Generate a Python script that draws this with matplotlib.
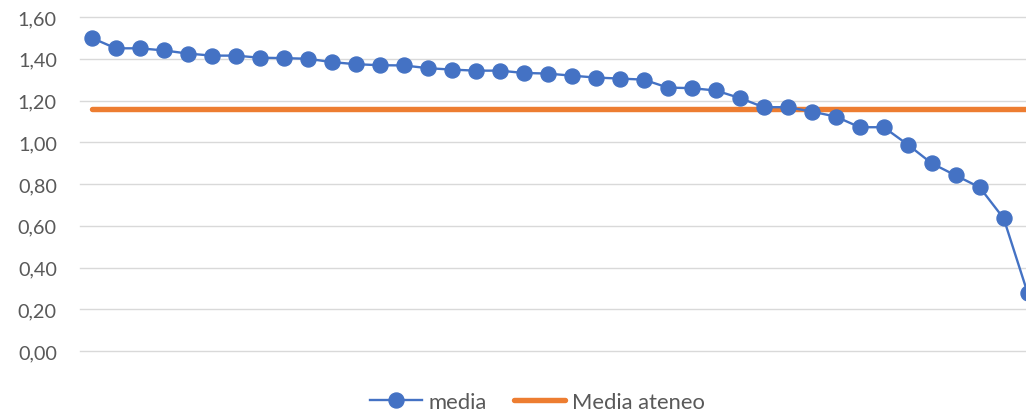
import matplotlib
matplotlib.use("Agg")
import matplotlib.pyplot as plt
from matplotlib.ticker import FuncFormatter
from matplotlib.lines import Line2D

# ---- data ----
categories = list(range(1, 41))
media = [1.50, 1.45, 1.45, 1.44, 1.425, 1.415, 1.415, 1.405, 1.403, 1.40,
         1.384, 1.374, 1.369, 1.368, 1.355, 1.348, 1.343, 1.343, 1.332, 1.329,
         1.319, 1.31, 1.305, 1.30, 1.262, 1.259, 1.248, 1.212, 1.168, 1.168,
         1.147, 1.123, 1.072, 1.072, 0.989, 0.899, 0.841, 0.784, 0.635, 0.277]
media_ateneo = [1.16] * 40
series_labels = ["media", "Media ateneo"]
y_ticks = [0.0, 0.2, 0.4, 0.6, 0.8, 1.0, 1.2, 1.4, 1.6]

BLUE = "#4472C4"
ORANGE = "#ED7D31"
GRID = "#D9D9D9"
TEXT = "#595959"

plt.rcParams['font.family'] = ['Lato', 'DejaVu Sans']

W, H = 1026, 414
fig = plt.figure(figsize=(W / 100, H / 100), dpi=100)
left, right = 79.7 / W, 1039.7 / W
bottom, top = (H - 352) / H, (H - 18) / H
ax = fig.add_axes([left, bottom, right - left, top - bottom])

ax.plot(categories, media_ateneo, color=ORANGE, lw=3.9, solid_capstyle='round',
        zorder=3, label=series_labels[1])
ax.plot(categories, media, color=BLUE, lw=1.7, marker='o', markersize=10.8,
        markerfacecolor=BLUE, markeredgecolor=BLUE, zorder=4, label=series_labels[0])

ax.set_xlim(0.5, 40.5)
ax.set_ylim(0, 1.6)
ax.set_yticks(y_ticks)
ax.yaxis.set_major_formatter(FuncFormatter(lambda v, p: f"{v:.2f}".replace('.', ',')))
ax.set_xticks([])
ax.grid(axis='y', color=GRID, lw=1.0, zorder=0)
for gl in ax.get_ygridlines():
    gl.set_clip_on(False)
ax.set_axisbelow(True)
for s in ax.spines.values():
    s.set_visible(False)
ax.tick_params(axis='y', length=0, pad=16.5, labelsize=14.3, labelcolor=TEXT)

handles = [Line2D([], [], color=BLUE, lw=1.7, marker='o', markersize=10.8),
           Line2D([], [], color=ORANGE, lw=3.9, solid_capstyle='round')]
fig.legend(handles, series_labels, loc='center', bbox_to_anchor=(537.5 / W, 0.027),
           ncol=2, frameon=False, fontsize=15.8, labelcolor=TEXT,
           handlelength=2.35, handletextpad=0.3, columnspacing=1.25, borderpad=0)

fig.savefig("out.png", dpi=100)
